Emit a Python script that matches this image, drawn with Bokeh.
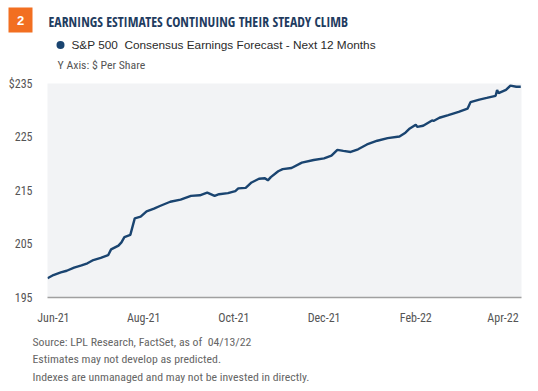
from datetime import datetime
from bokeh.plotting import figure
from bokeh.layouts import column
from bokeh.models import Range1d, FixedTicker, DatetimeTickFormatter, ColumnDataSource
from bokeh.core.properties import value
from bokeh.embed import file_html
from bokeh.resources import INLINE

dates = ["2021-05-28", "2021-06-01", "2021-06-06", "2021-06-10", "2021-06-15", "2021-06-20",
         "2021-06-24", "2021-06-28", "2021-07-03", "2021-07-08", "2021-07-10", "2021-07-15",
         "2021-07-17", "2021-07-19", "2021-07-23", "2021-07-26", "2021-07-30", "2021-08-03",
         "2021-08-08", "2021-08-12", "2021-08-19", "2021-08-26", "2021-09-02", "2021-09-08",
         "2021-09-13", "2021-09-18", "2021-09-21", "2021-09-27", "2021-10-02", "2021-10-04",
         "2021-10-09", "2021-10-13", "2021-10-18", "2021-10-22", "2021-10-24", "2021-10-26",
         "2021-10-31", "2021-11-03", "2021-11-09", "2021-11-16", "2021-11-24", "2021-12-01",
         "2021-12-06", "2021-12-10", "2021-12-14", "2021-12-19", "2021-12-24", "2021-12-30",
         "2022-01-06", "2022-01-13", "2022-01-21", "2022-01-25", "2022-01-28", "2022-02-01",
         "2022-02-02", "2022-02-06", "2022-02-12", "2022-02-13", "2022-02-17", "2022-02-23",
         "2022-03-02", "2022-03-08", "2022-03-10", "2022-03-16", "2022-03-21", "2022-03-27",
         "2022-03-28", "2022-03-29", "2022-04-03", "2022-04-06", "2022-04-10", "2022-04-13"]
eps = [198.6, 199.2, 199.7, 200.0, 200.6, 201.0,
       201.4, 202.0, 202.4, 202.9, 204.0, 204.7,
       205.3, 206.3, 206.7, 209.8, 210.1, 211.1,
       211.6, 212.1, 212.9, 213.3, 214.0, 214.1,
       214.6, 214.0, 214.3, 214.5, 214.9, 215.4,
       215.5, 216.5, 217.2, 217.3, 216.9, 217.5,
       218.6, 219.0, 219.2, 220.2, 220.7, 221.0,
       221.5, 222.6, 222.4, 222.2, 222.7, 223.6,
       224.3, 224.8, 225.1, 225.8, 226.6, 227.3,
       226.9, 227.1, 228.1, 228.0, 228.6, 229.1,
       229.7, 230.3, 231.5, 232.0, 232.3, 232.7,
       233.8, 233.2, 233.8, 234.6, 234.4, 234.4]
x_ticks = ["2021-06-01", "2021-08-01", "2021-10-01", "2021-12-01", "2022-02-01", "2022-04-01"]
y_ticks = [195, 205, 215, 225, 235]
y_tick_labels = {235: "$235"}

chart_number = "2"
title_text = "EARNINGS ESTIMATES CONTINUING THEIR STEADY CLIMB"
series_name = "S&P 500  Consensus Earnings Forecast - Next 12 Months"
axis_note = "Y Axis: $ Per Share"
footnotes = ["Source: LPL Research, FactSet, as of\u00a0\u00a004/13/22",
             "Estimates may not develop as predicted.",
             "Indexes are unmanaged and may not be invested in directly."]

NAVY = "#1a4470"
TITLE_NAVY = "#1f3c5f"
ORANGE = "#f26f21"
COND = "Roboto Condensed"
W = 530


def ms(s):
    return datetime.strptime(s, "%Y-%m-%d").timestamp() * 1000


def blank(height):
    # pixel-like panel: x = px from left, y = px from top
    f = figure(width=W, height=height, output_backend="svg", toolbar_location=None,
               x_range=Range1d(0, W), y_range=Range1d(height, 0),
               x_axis_location=None, y_axis_location=None,
               min_border=0, min_border_left=0, min_border_right=0,
               min_border_top=0, min_border_bottom=0)
    f.grid.visible = False
    f.outline_line_color = None
    f.background_fill_color = "white"
    f.border_fill_color = "white"
    return f


# ---------- header ----------
head = blank(75)
head.quad(left=[8], right=[32], top=[7], bottom=[32], fill_color=ORANGE, line_color=None)
head.text(x=[20], y=[20], text=[chart_number], text_align="center", text_baseline="middle",
          text_font=value("Liberation Sans"), text_font_style="bold", text_font_size="13px",
          text_color="white")
head.text(x=[48], y=[20.5], text=[title_text], text_baseline="middle",
          text_font=value("Open Sans Condensed"), text_font_style="bold", text_font_size="13.7px",
          text_color=TITLE_NAVY)
head.scatter(x=[60], y=[44.5], size=8, marker="circle", fill_color=NAVY, line_color=None)
head.text(x=[71], y=[44.5], text=[series_name.replace("  ", "\u00a0 ")], text_baseline="middle",
          text_font=value("Liberation Sans"), text_font_size="11.8px", text_color="#2a2a2a")
head.text(x=[57], y=[64.5], text=[axis_note], text_baseline="middle",
          text_font=value(COND), text_font_size="11.8px", text_color="#555555")

# ---------- main chart ----------
src = ColumnDataSource(dict(x=[datetime.strptime(d, "%Y-%m-%d") for d in dates], y=eps))

p = figure(width=W, height=252, x_axis_type="datetime", output_backend="svg",
           toolbar_location=None,
           x_range=Range1d(ms("2021-05-28"), ms("2022-04-13") + 43200000),
           y_range=Range1d(195, 235),
           min_border_left=47, min_border_right=9, min_border_top=8, min_border_bottom=30)
p.background_fill_color = "#f2f3f5"
p.border_fill_color = "white"
p.outline_line_color = None
p.grid.visible = False

p.line("x", "y", source=src, line_color=NAVY, line_width=2.4)

xa = p.xaxis[0]
xa.ticker = FixedTicker(ticks=[ms(t) for t in x_ticks])
xa.formatter = DatetimeTickFormatter(days="%b-%y", months="%b-%y", years="%b-%y")
xa.major_tick_line_color = None
xa.minor_tick_line_color = None
xa.axis_line_color = "#a0a0a0"
xa.axis_line_width = 1.5
xa.major_label_text_font = COND
xa.major_label_text_font_size = "12px"
xa.major_label_text_color = "#555555"
xa.major_label_standoff = 7

ya = p.yaxis[0]
ya.ticker = FixedTicker(ticks=y_ticks)
ya.major_label_overrides = y_tick_labels
ya.major_tick_line_color = None
ya.minor_tick_line_color = None
ya.axis_line_color = None
ya.major_label_text_font = COND
ya.major_label_text_font_size = "12px"
ya.major_label_text_color = "#555555"
ya.major_label_standoff = 9

# ---------- footer ----------
foot = blank(62)
foot.text(x=[32, 32, 32], y=[14.7, 31.5, 49.3], text=footnotes, text_baseline="middle",
          text_font=value(COND), text_font_size="11.8px", text_color="#666666")

layout = column(column(head), p, column(foot), spacing=0)
open("out.html", "w").write(file_html(layout, INLINE))
